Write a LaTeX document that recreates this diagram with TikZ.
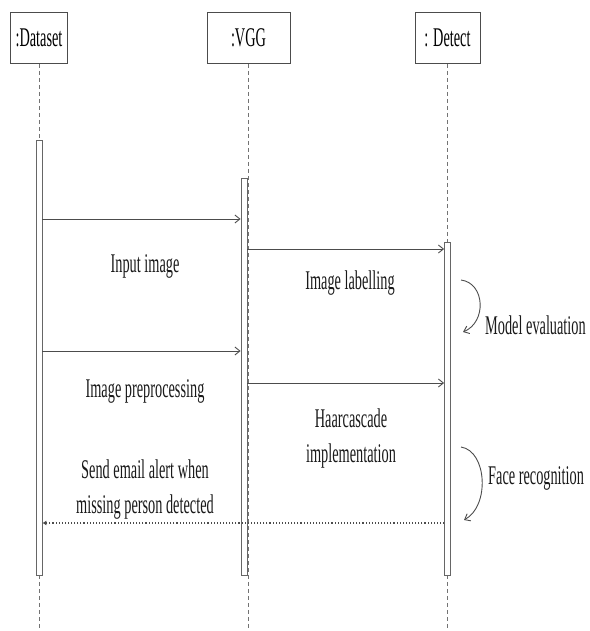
\documentclass[tikz,border=0pt]{standalone}
\usepackage{fontspec}
\setmainfont{Liberation Serif}[FakeStretch=0.53]
\usetikzlibrary{arrows.meta}

\tikzset{
  headbox/.style={draw=black!70, line width=0.8pt, minimum height=51pt, inner sep=0pt, font=\fontsize{27}{32}\selectfont},
  actbar/.style={draw=black!60, fill=white, line width=0.8pt, minimum width=6pt, inner sep=0pt},
  lifeline/.style={draw=black!55, dash pattern=on 4pt off 3pt, line width=0.6pt},
  msg/.style={draw=black!70, line width=0.9pt, -{Straight Barb[length=5pt,width=8pt]}},
  reply/.style={draw=black!70, line width=1.1pt, dotted, -{Latex[length=4pt,width=5pt]}},
  lbl/.style={align=center, inner sep=0pt, text=black!90, font=\fontsize{27}{35}\selectfont}
}

\begin{document}
\begin{tikzpicture}[x=1pt, y=-1pt]
\useasboundingbox (0,0) rectangle (589,631);

% lifeline heads
\node[headbox, minimum width=57pt] (dataset) at (39,38) {:Dataset};
\node[headbox, minimum width=83pt] (vgg) at (248.5,38) {:VGG};
\node[headbox, minimum width=65pt] (detect) at (447.5,38) {: Detect};

% lifelines
\draw[lifeline] (dataset.south) -- ++(0,566);
\draw[lifeline] (vgg.south) -- ++(0,566);
\draw[lifeline] (detect.south) -- ++(0,566);

% activation bars
\node[actbar, minimum height=435pt] (dsbar) at (39,357.5) {};
\node[actbar, minimum height=397pt] (vggbar) at (244,376.5) {};
\node[actbar, minimum height=333pt] (detbar) at (447.5,408.5) {};

% message rows
\coordinate (r1) at (0,219);
\coordinate (r2) at (0,249);
\coordinate (r3) at (0,351);
\coordinate (r4) at (0,383);
\coordinate (r5) at (0,523);

\draw[msg] (dsbar.east |- r1) -- (vggbar.west |- r1);
\draw[msg] (vggbar.east |- r2) -- (detbar.west |- r2);
\draw[msg] (dsbar.east |- r3) -- (vggbar.west |- r3);
\draw[msg] (vggbar.east |- r4) -- (detbar.west |- r4);
\draw[reply] (detbar.west |- r5) -- (dsbar.east |- r5);

\node[lbl] (input) at (145,266) {Input image};
\node[lbl] (labelling) at (350,283) {Image labelling};
\node[lbl] (prepro) at (145,391) {Image preprocessing};
\node[lbl] (haar) at (351,439) {Haarcascade\\implementation};
\node[lbl] (alert) at (145,490) {Send email alert when\\missing person detected};

% self calls on Detect
\coordinate (ev1) at (461,280);
\coordinate (ev2) at (463,332);
\draw[msg] (ev1) .. controls +(24,3) and +(24,-10) .. (ev2);
\node[lbl, anchor=west] (evaluation) at (485,325) {Model evaluation};

\coordinate (fr1) at (461,447);
\coordinate (fr2) at (464,520);
\draw[msg] (fr1) .. controls +(26,4) and +(26,-14) .. (fr2);
\node[lbl, anchor=west] (recognition) at (488,478) {Face recognition};
\end{tikzpicture}
\end{document}
